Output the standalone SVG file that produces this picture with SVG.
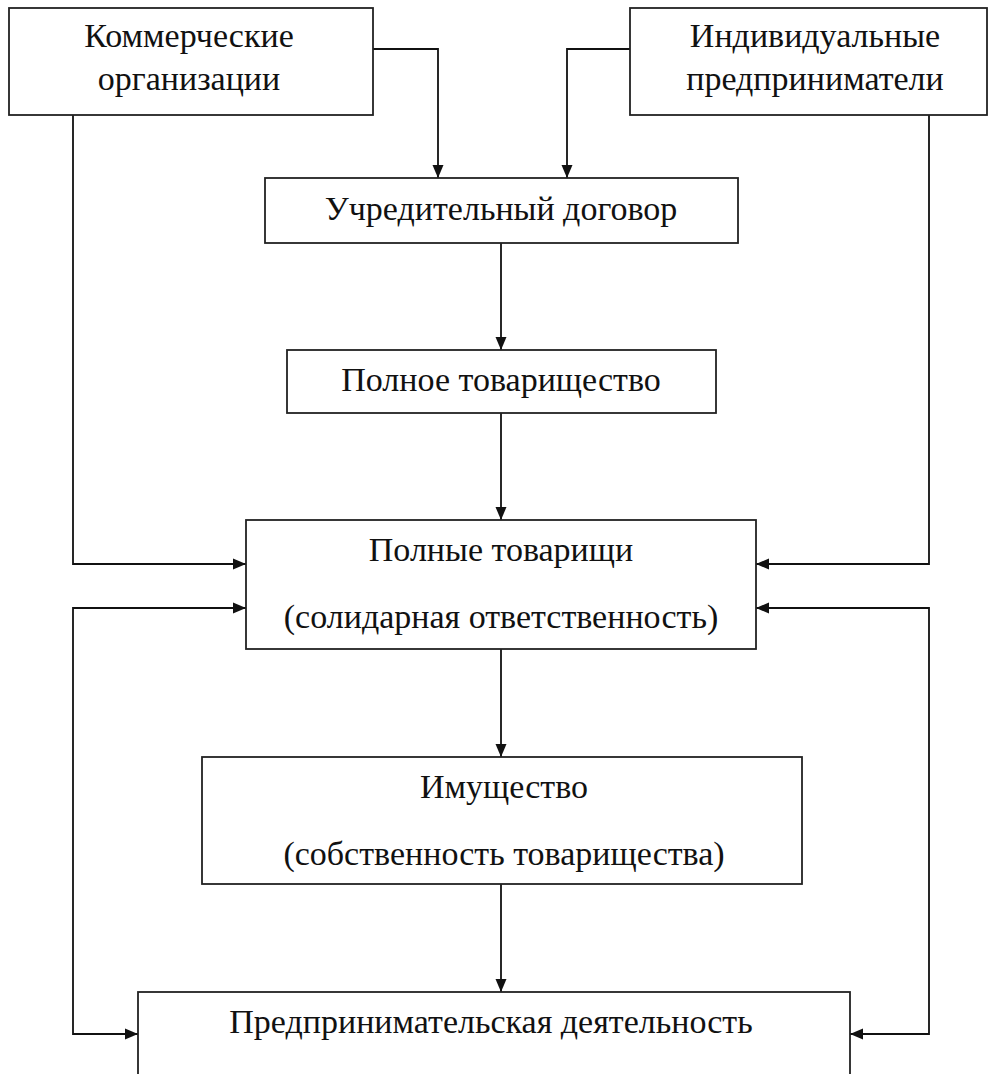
<svg xmlns="http://www.w3.org/2000/svg" width="988" height="1074" viewBox="0 0 988 1074">
<style>
.box{fill:#fff;stroke:#222;stroke-width:1.8}
.t{font-family:"Liberation Serif","Times New Roman",serif;font-size:34px;fill:#111;text-anchor:middle}
.c{fill:none;stroke:#111;stroke-width:1.8}
</style>
<defs>
<marker id="ah" viewBox="0 0 13 12" refX="13" refY="6" markerWidth="13" markerHeight="12" markerUnits="userSpaceOnUse" orient="auto-start-reverse">
<path d="M0,0.5 L13,6 L0,11.5 Z" fill="#111"/>
</marker>
</defs>
<rect width="988" height="1074" fill="#fff"/>
<g id="connectors">
<path class="c" d="M373,49 H438 V178" marker-end="url(#ah)"/>
<path class="c" d="M630,49 H567 V178" marker-end="url(#ah)"/>
<path class="c" d="M501,243 V350" marker-end="url(#ah)"/>
<path class="c" d="M501,413 V520" marker-end="url(#ah)"/>
<path class="c" d="M73,115 V564 H246" marker-end="url(#ah)"/>
<path class="c" d="M929,115 V564 H756" marker-end="url(#ah)"/>
<path class="c" d="M501,649 V757" marker-end="url(#ah)"/>
<path class="c" d="M501,884 V992" marker-end="url(#ah)"/>
<path class="c" d="M246,608 H73 V1034 H138" marker-start="url(#ah)" marker-end="url(#ah)"/>
<path class="c" d="M756,608 H929 V1034 H850" marker-start="url(#ah)" marker-end="url(#ah)"/>
</g>
<g id="n1">
<rect class="box" x="9" y="8" width="364" height="107"/>
<text class="t" x="189" y="47">Коммерческие</text>
<text class="t" x="189" y="90">организации</text>
</g>
<g id="n2">
<rect class="box" x="630" y="8" width="357" height="107"/>
<text class="t" x="815" y="47">Индивидуальные</text>
<text class="t" x="815" y="90">предприниматели</text>
</g>
<g id="n3">
<rect class="box" x="265" y="178" width="473" height="65"/>
<text class="t" x="501" y="220">Учредительный договор</text>
</g>
<g id="n4">
<rect class="box" x="287" y="350" width="429" height="63"/>
<text class="t" x="501" y="391">Полное товарищество</text>
</g>
<g id="n5">
<rect class="box" x="246" y="520" width="510" height="129"/>
<text class="t" x="501" y="561">Полные товарищи</text>
<text class="t" x="501" y="628">(солидарная ответственность)</text>
</g>
<g id="n6">
<rect class="box" x="202" y="757" width="600" height="127"/>
<text class="t" x="504" y="798">Имущество</text>
<text class="t" x="504" y="865">(собственность товарищества)</text>
</g>
<g id="n7">
<rect class="box" x="138" y="992" width="712" height="100"/>
<text class="t" x="491" y="1033">Предпринимательская деятельность</text>
</g>
</svg>
